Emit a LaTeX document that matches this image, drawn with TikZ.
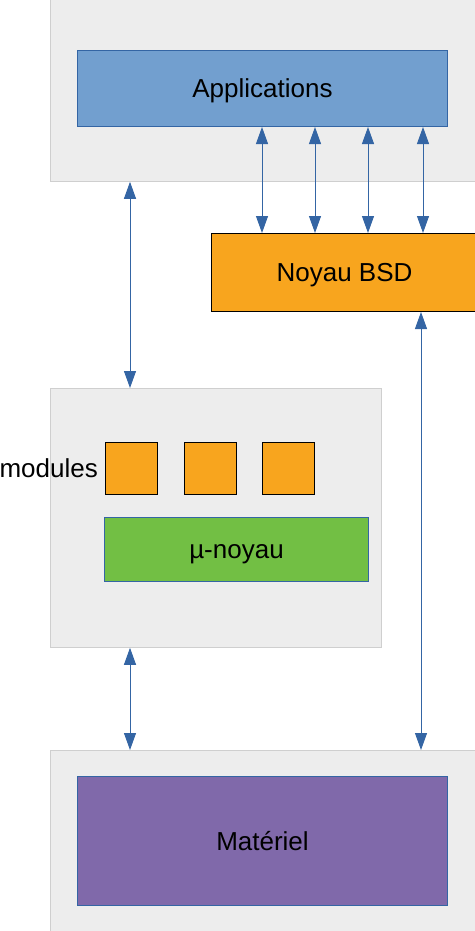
\documentclass[tikz,border=0pt]{standalone}
\usepackage{fontspec}
\setmainfont{Liberation Sans}
\usetikzlibrary{arrows.meta,positioning}

\definecolor{panelgray}{HTML}{EDEDED}
\definecolor{panelline}{HTML}{CFCFCF}
\definecolor{linkblue}{HTML}{3465A4}
\definecolor{appblue}{HTML}{729FCF}
\definecolor{bsdorange}{HTML}{F8A51E}
\definecolor{microgreen}{HTML}{72BF44}
\definecolor{hwpurple}{HTML}{8069AA}

\begin{document}
\begin{tikzpicture}[x=1pt,y=-1pt,
  panel/.style={draw=panelline, fill=panelgray, line width=0.8pt, inner sep=0pt, anchor=north west},
  layer/.style={draw=linkblue, line width=1pt, inner sep=0pt, anchor=north west, text height=23.5pt, text depth=5.5pt, font=\fontsize{26}{31}\selectfont},
  module/.style={layer, draw=black, fill=bsdorange, minimum size=52pt},
  link/.style={linkblue, line width=1pt, {Triangle[length=17pt,width=12pt]}-{Triangle[length=17pt,width=12pt]}}]
\useasboundingbox (0,0) rectangle (474,931);

% grey panels
\node[panel, minimum width=428pt, minimum height=183pt] (ptop) at (50,-2) {};
\node[panel, minimum width=331pt, minimum height=259pt] (pmid) at (50,388) {};
\node[panel, minimum width=428pt, minimum height=185pt] (pbot) at (50,750) {};

% layers
\node[layer, fill=appblue, minimum width=370pt, minimum height=76pt] (app) at (77,50) {Applications};
\node[layer, draw=black, fill=bsdorange, minimum width=266pt, minimum height=78pt] (bsd) at (211,233) {Noyau BSD};
\node[module] (m1) at (105,442) {};
\node[module, right=26pt of m1] (m2) {};
\node[module, right=25pt of m2] (m3) {};
\node[left=7pt of m1, inner sep=0pt, text height=23.5pt, text depth=5.5pt, font=\fontsize{26}{31}\selectfont] (modlabel) {modules};
\node[layer, fill=microgreen, minimum width=264pt, minimum height=64pt] (micro) at (104,517) {µ-noyau};
\node[layer, fill=hwpurple, minimum width=370pt, minimum height=129pt] (hw) at (77,776) {Matériel};

\coordinate (lcol) at (130,0);
\coordinate (rcol) at (421,0);

\foreach \x in {262,315,368,423}
  \draw[link] (app.south -| \x,0) -- (bsd.north -| \x,0);
\draw[link] (ptop.south -| lcol) -- (pmid.north -| lcol);
\draw[link] (pmid.south -| lcol) -- (pbot.north -| lcol);
\draw[link] (bsd.south -| rcol) -- (pbot.north -| rcol);
\end{tikzpicture}
\end{document}
